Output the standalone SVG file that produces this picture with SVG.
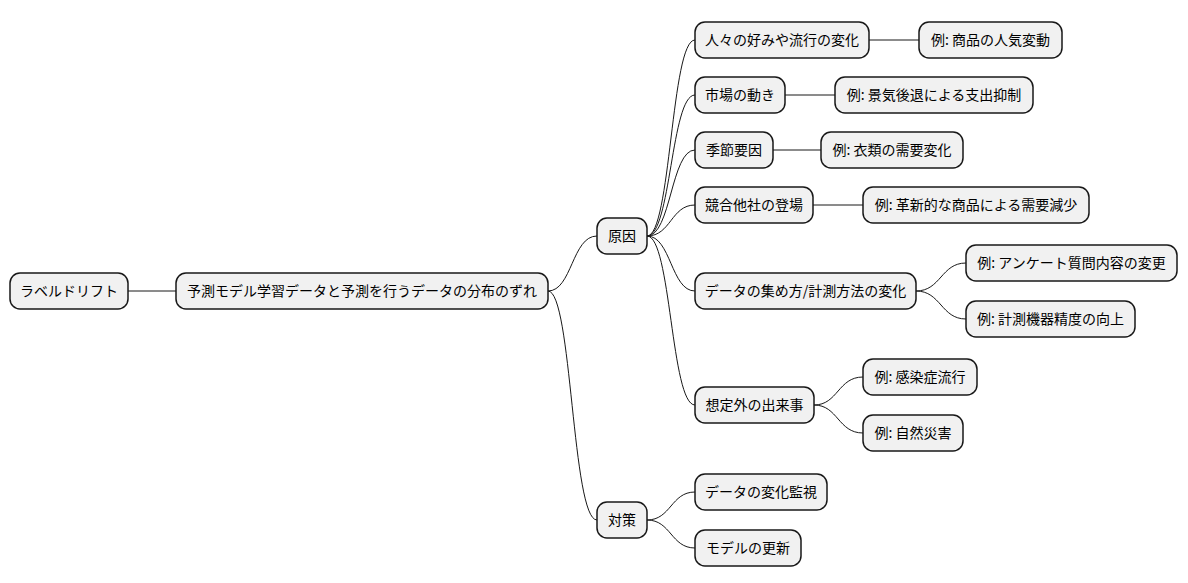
<svg xmlns="http://www.w3.org/2000/svg" width="1188" height="583" viewBox="0 0 1188 583">
<style>
.n rect{fill:#F1F1F1;stroke:#181818;stroke-width:1.5}
.n text{font-family:"Noto Sans CJK JP","Liberation Sans",sans-serif;font-size:14px;fill:#000;text-anchor:middle}
#edges path{fill:none;stroke:#181818;stroke-width:1}
</style>
<rect width="1188" height="583" fill="#fff"/>
<g id="edges">
<path d="M128 291H176"/>
<path d="M548 291C572 291 572 236 597 236"/>
<path d="M548 291C572 291 572 520 597 520"/>
<path d="M647 236C671 236 671 40 695 40"/>
<path d="M647 236C671 236 671 95 695 95"/>
<path d="M647 236C671 236 671 150 695 150"/>
<path d="M647 236C671 236 671 205 695 205"/>
<path d="M647 236C671 236 671 291 695 291"/>
<path d="M647 236C671 236 671 405 695 405"/>
<path d="M647 520C671 520 671 492 695 492"/>
<path d="M647 520C671 520 671 548 695 548"/>
<path d="M869 40H919"/>
<path d="M785 95H835"/>
<path d="M773 150H821"/>
<path d="M813 205H863"/>
<path d="M916 291C941 291 941 263 966 263"/>
<path d="M916 291C941 291 941 319 966 319"/>
<path d="M814 405C838 405 838 377 863 377"/>
<path d="M814 405C838 405 838 433 863 433"/>
</g>
<g id="root" class="n"><rect x="10" y="273" width="118" height="36" rx="10"/><text x="69" y="296">ラベルドリフト</text></g>
<g id="def" class="n"><rect x="176" y="273" width="372" height="36" rx="10"/><text x="362" y="296">予測モデル学習データと予測を行うデータの分布のずれ</text></g>
<g id="cause" class="n"><rect x="597" y="218" width="50" height="36" rx="10"/><text x="622" y="241">原因</text></g>
<g id="measure" class="n"><rect x="597" y="502" width="50" height="36" rx="10"/><text x="622" y="525">対策</text></g>
<g id="c1" class="n"><rect x="695" y="22" width="174" height="36" rx="10"/><text x="782" y="45">人々の好みや流行の変化</text></g>
<g id="e1" class="n"><rect x="919" y="22" width="143" height="36" rx="10"/><text x="990.5" y="45">例: 商品の人気変動</text></g>
<g id="c2" class="n"><rect x="695" y="77" width="90" height="36" rx="10"/><text x="740" y="100">市場の動き</text></g>
<g id="e2" class="n"><rect x="835" y="77" width="198" height="36" rx="10"/><text x="934" y="100">例: 景気後退による支出抑制</text></g>
<g id="c3" class="n"><rect x="695" y="132" width="78" height="36" rx="10"/><text x="734" y="155">季節要因</text></g>
<g id="e3" class="n"><rect x="821" y="132" width="142" height="36" rx="10"/><text x="892" y="155">例: 衣類の需要変化</text></g>
<g id="c4" class="n"><rect x="695" y="187" width="118" height="36" rx="10"/><text x="754" y="210">競合他社の登場</text></g>
<g id="e4" class="n"><rect x="863" y="187" width="226" height="36" rx="10"/><text x="976" y="210">例: 革新的な商品による需要減少</text></g>
<g id="c5" class="n"><rect x="695" y="273" width="221" height="36" rx="10"/><text x="805.5" y="296">データの集め方/計測方法の変化</text></g>
<g id="e5a" class="n"><rect x="966" y="245" width="211" height="36" rx="10"/><text x="1071.5" y="268">例: アンケート質問内容の変更</text></g>
<g id="e5b" class="n"><rect x="966" y="301" width="169" height="36" rx="10"/><text x="1050.5" y="324">例: 計測機器精度の向上</text></g>
<g id="c6" class="n"><rect x="695" y="387" width="119" height="36" rx="10"/><text x="754.5" y="410">想定外の出来事</text></g>
<g id="e6a" class="n"><rect x="863" y="359" width="114" height="36" rx="10"/><text x="920" y="382">例: 感染症流行</text></g>
<g id="e6b" class="n"><rect x="863" y="415" width="100" height="36" rx="10"/><text x="913" y="438">例: 自然災害</text></g>
<g id="m1" class="n"><rect x="695" y="474" width="132" height="36" rx="10"/><text x="761" y="497">データの変化監視</text></g>
<g id="m2" class="n"><rect x="695" y="530" width="106" height="36" rx="10"/><text x="748" y="553">モデルの更新</text></g>
</svg>
